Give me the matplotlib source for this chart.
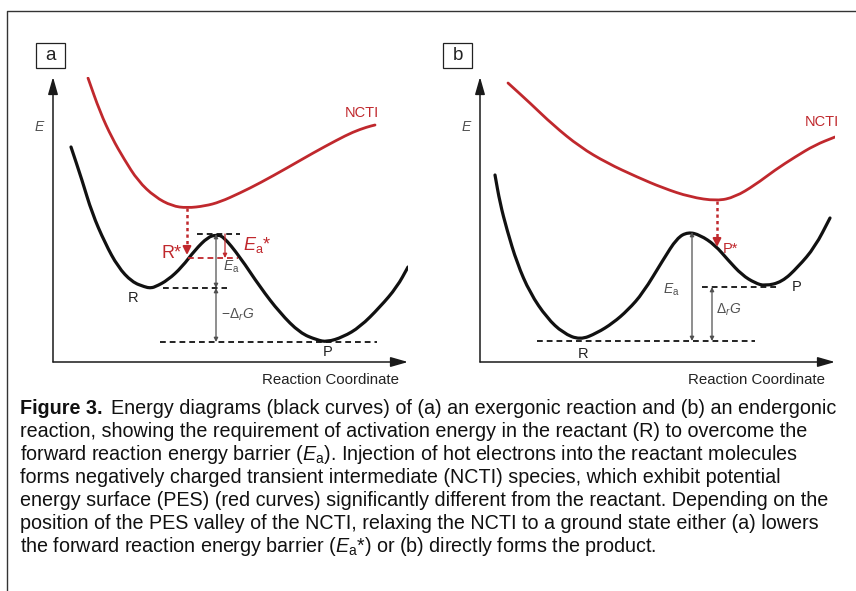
"""
Energy diagrams (Figure 3): panel (a) exergonic, panel (b) endergonic, with NCTI PES.
"""
import matplotlib
matplotlib.use("Agg")
import matplotlib.pyplot as plt
from matplotlib.patches import Rectangle, PathPatch
from matplotlib.path import Path

plt.rcParams["font.family"] = ["Liberation Sans", "DejaVu Sans"]
plt.rcParams["mathtext.fontset"] = "custom"
plt.rcParams["mathtext.rm"] = "Liberation Sans"
plt.rcParams["mathtext.it"] = "Liberation Sans:italic"
plt.rcParams["mathtext.bf"] = "Liberation Sans:bold"

RED = "#c0282d"
BLK = "#111111"
GRY = "#505050"

# ---- panel a (exergonic): reaction coordinate / energy
a_black_x = [18, 29, 39, 52, 65, 79, 92, 97, 102, 115, 129, 142, 155, 163,
             170, 187, 207, 227, 247, 264, 274, 290, 307, 327, 344, 355]
a_black_e = [215, 182, 149, 119, 95, 80, 75, 74, 75, 82, 95, 112, 125, 127,
             126, 105, 75, 49, 29, 22, 20, 25, 35, 55, 75, 95]
a_red_x = [35, 47, 59, 71, 85, 102, 119, 134, 152, 167, 187, 207, 234, 260,
           284, 300, 314, 322]
a_red_e = [284, 250, 224, 203, 181, 165, 156, 154, 156, 160, 169, 179, 194,
           209, 222, 230, 235, 237]
a_levels = {"TS": 128, "R*": 104, "R": 74, "P": 20}
a_ncti_min_x = 134

# ---- panel b (endergonic)
b_black_x = [15, 20, 27, 37, 50, 67, 83, 100, 117, 133, 148, 163, 183, 197,
             208, 220, 235, 248, 262, 275, 285, 302, 318, 335, 350]
b_black_e = [187, 159, 132, 99, 69, 44, 29, 22, 29, 39, 52, 69, 102, 124,
             130, 127, 117, 102, 87, 79, 76, 80, 95, 115, 144]
b_red_x = [28, 50, 73, 100, 127, 157, 183, 210, 237, 255, 275, 295, 315,
           335, 355]
b_red_e = [279, 259, 237, 215, 199, 185, 174, 165, 161, 165, 177, 192, 205,
           217, 225]
b_levels = {"TS": 130, "P*": 115, "P": 75, "R": 21}
b_ncti_min_x = 237

CAPTION_HEAD = "Figure 3."
CAPTION = [
    "Energy diagrams (black curves) of (a) an exergonic reaction and (b) an endergonic",
    "reaction, showing the requirement of activation energy in the reactant (R) to overcome the",
    r"forward reaction energy barrier ($E_\mathrm{a}$). Injection of hot electrons into the reactant molecules",
    "forms negatively charged transient intermediate (NCTI) species, which exhibit potential",
    "energy surface (PES) (red curves) significantly different from the reactant. Depending on the",
    "position of the PES valley of the NCTI, relaxing the NCTI to a ground state either (a) lowers",
    r"the forward reaction energy barrier ($E_\mathrm{a}$*) or (b) directly forms the product.",
]

W, H = 856, 591
fig = plt.figure(figsize=(W / 100, H / 100), dpi=100)

# background axes in pixel units for frame, panel tags and caption
bg = fig.add_axes([0, 0, 1, 1])
bg.set_xlim(0, W); bg.set_ylim(H, 0); bg.axis("off")
bg.plot([7, 7, W], [H, 11, 11], color="#333333", lw=1.0)
for (x0, y0, tag) in [(36, 43, "a"), (443, 43, "b")]:
    bg.add_patch(Rectangle((x0, y0), 29, 25, fill=False, ec="#222222", lw=0.9))
    bg.text(x0 + 14.5, y0 + 12, tag, ha="center", va="center", fontsize=13.5,
            color="#222222")

CAP_FS = 14.2
head = bg.text(20, 414, CAPTION_HEAD, ha="left", va="baseline", fontsize=CAP_FS,
               fontweight="bold", color="#111111")
bb = head.get_window_extent(renderer=fig.canvas.get_renderer())
for i, line in enumerate(CAPTION):
    x = bb.x1 + 8 if i == 0 else 20
    bg.text(x, 414 + 23 * i, line, ha="left", va="baseline", fontsize=CAP_FS,
            color="#111111")


def smooth(ax, xs, es, color, lw):
    """Smooth curve through the read-off points (quadratic Bezier path)."""
    pts = list(zip(xs, es))
    mids = [((x0 + x1) / 2, (y0 + y1) / 2) for (x0, y0), (x1, y1) in zip(pts[:-1], pts[1:])]
    verts = [pts[0], mids[0]]
    codes = [Path.MOVETO, Path.LINETO]
    for p, m in zip(pts[1:-1], mids[1:]):
        verts += [p, m]
        codes += [Path.CURVE3, Path.CURVE3]
    verts.append(pts[-1]); codes.append(Path.LINETO)
    ax.add_patch(PathPatch(Path(verts, codes), fill=False, ec=color, lw=lw,
                           capstyle="round", joinstyle="round"))


def arrow(ax, x0, y0, x1, y1, color, style="-|>", lw=1.0, ms=10):
    ax.annotate("", xy=(x1, y1), xytext=(x0, y0),
                arrowprops=dict(arrowstyle=style, color=color, lw=lw,
                                mutation_scale=ms, shrinkA=0, shrinkB=0),
                annotation_clip=False)


def dashed(ax, x0, x1, y, color=BLK):
    ax.plot([x0, x1], [y, y], color=color, lw=1.3, ls=(0, (3.2, 2.2)))


AXIS_HEAD = "-|>,head_length=0.7,head_width=0.2"


def panel(left_px):
    ax = fig.add_axes([left_px / W, (H - 362) / H, 355 / W, 285 / H])
    ax.set_xlim(0, 355); ax.set_ylim(0, 285); ax.axis("off")
    arrow(ax, 0, 0, 355, 0, "#1a1a1a", style=AXIS_HEAD, lw=1.1, ms=15)
    arrow(ax, 0, 0, 0, 285, "#1a1a1a", style=AXIS_HEAD, lw=1.1, ms=15)
    ax.text(-13, 235, "$E$", ha="center", va="center", fontsize=10, color=GRY)
    ax.text(277, -18, "Reaction Coordinate", ha="center", va="center",
            fontsize=10.8, color="#222222")
    return ax


def relax_arrow(ax, x, y0, y1):
    ax.plot([x, x], [y0, y1 + 6], color=RED, lw=1.8, ls=(0, (1.3, 1.3)))
    arrow(ax, x, y1 + 8, x, y1, RED, lw=1.5, ms=12)


# ---------------- panel a
ax = panel(53)
smooth(ax, a_red_x, a_red_e, RED, 2.0)
smooth(ax, a_black_x, a_black_e, BLK, 2.3)
lv = a_levels
dashed(ax, 144, 187, lv["TS"])
dashed(ax, 135, 185, lv["R*"], RED)
dashed(ax, 110, 174, lv["R"])
dashed(ax, 107, 324, lv["P"])
relax_arrow(ax, a_ncti_min_x, 154, lv["R*"] + 3)
arrow(ax, 172, lv["TS"], 172, lv["R*"], RED, style="-|>", lw=0.9, ms=6)
arrow(ax, 163, lv["TS"], 163, lv["R"], GRY, style="<|-|>", lw=0.9, ms=6)
arrow(ax, 163, lv["R"], 163, lv["P"], GRY, style="<|-|>", lw=0.9, ms=6)
ax.text(129, 108, "R*", ha="right", va="center", fontsize=13, color=RED)
ax.text(190, 117, r"$E_\mathrm{a}$*", ha="left", va="center", fontsize=13,
        color=RED)
ax.text(170, 95, r"$E_\mathrm{a}$", ha="left", va="center", fontsize=10,
        color=GRY)
ax.text(168, 47, r"$-\mathrm{\Delta}_{r}G$", ha="left", va="center",
        fontsize=10, color=GRY)
ax.text(80, 64, "R", ha="center", va="center", fontsize=10.5, color="#222222")
ax.text(275, 10, "P", ha="center", va="center", fontsize=10.5, color="#222222")
ax.text(309, 249, "NCTI", ha="center", va="center", fontsize=10.5, color=RED)

# ---------------- panel b
ax = panel(480)
smooth(ax, b_red_x, b_red_e, RED, 2.0)
smooth(ax, b_black_x, b_black_e, BLK, 2.3)
lv = b_levels
dashed(ax, 222, 298, lv["P"])
dashed(ax, 57, 275, lv["R"])
relax_arrow(ax, b_ncti_min_x, 161, lv["P*"])
arrow(ax, 212, lv["TS"], 212, lv["R"], GRY, style="<|-|>", lw=0.9, ms=6)
arrow(ax, 232, lv["P"], 232, lv["R"], GRY, style="<|-|>", lw=0.9, ms=6)
ax.text(243, 113, "P*", ha="left", va="center", fontsize=10.5, color=RED)
ax.text(200, 72, r"$E_\mathrm{a}$", ha="right", va="center", fontsize=10,
        color=GRY)
ax.text(236, 52, r"$\mathrm{\Delta}_{r}G$", ha="left", va="center",
        fontsize=10, color=GRY)
ax.text(103, 8, "R", ha="center", va="center", fontsize=10.5, color="#222222")
ax.text(317, 75, "P", ha="center", va="center", fontsize=10.5, color="#222222")
ax.text(342, 240, "NCTI", ha="center", va="center", fontsize=10.5, color=RED)

fig.savefig("out.png", dpi=100)
plt.close(fig)
